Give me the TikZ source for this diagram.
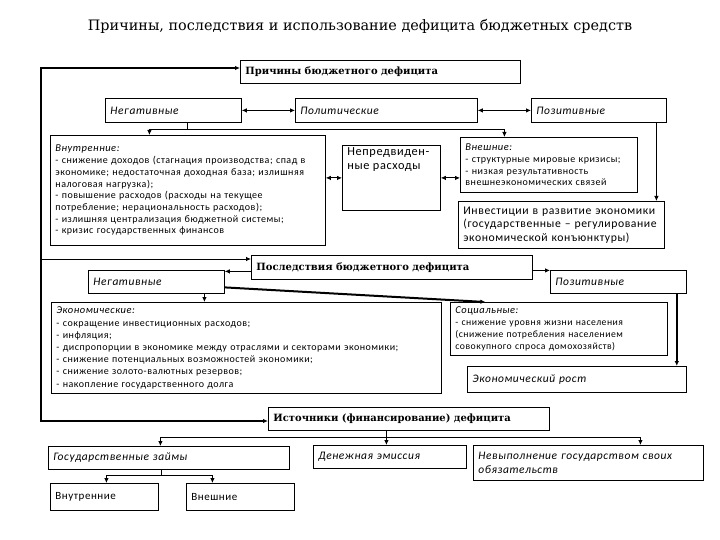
\documentclass[tikz,border=0pt]{standalone}
\usepackage{fontspec}
\setmainfont{Carlito}[LetterSpace=5]
\newfontfamily\headfont{DejaVu Serif}
\usetikzlibrary{arrows.meta,positioning}

\tikzset{
  box/.style={draw, line width=0.8pt, anchor=north west, inner xsep=5pt, inner ysep=2pt,
    align=left, font=\fontsize{10}{11.7}\selectfont},
  head/.style={box, font=\headfont\bfseries\fontsize{10}{12}\selectfont},
  kind/.style={box, font=\itshape\fontsize{11.5}{13.5}\selectfont},
  link/.style={-{Latex[length=5pt,width=4.5pt]}, line width=0.8pt},
  both/.style={{Latex[length=5pt,width=4.5pt]}-{Latex[length=5pt,width=4.5pt]}, line width=0.8pt},
  heavy/.style={link, line width=2pt},
}

\begin{document}
\begin{tikzpicture}[x=1pt,y=-1pt]
\useasboundingbox (0,0) rectangle (720,540);

\node[font=\headfont\fontsize{14.4}{17}\selectfont] (title) at (360,26)
  {Причины, последствия и  использование дефицита бюджетных средств};

% causes
\node[head, text width=270pt, minimum height=23pt] (causes) at (240,60) {Причины бюджетного дефицита};
\node[kind, text width=126pt, minimum height=24pt] (negC) at (105,98) {Негативные};
\node[kind, text width=172pt, minimum height=24pt] (polC) at (295,98) {Политические};
\node[kind, text width=125pt, minimum height=24pt] (posC) at (531,98) {Позитивные};

\node[box, text width=265pt, minimum height=110pt] (inner) at (50,135)
  {{\itshape\fontsize{10.5}{12}\selectfont Внутренние:}\\
   - снижение доходов (стагнация производства; спад в\\
   экономике; недостаточная доходная база; излишняя\\
   налоговая нагрузка);\\
   - повышение расходов (расходы на текущее\\
   потребление; нерациональность расходов);\\
   - излишняя централизация бюджетной системы;\\
   - кризис государственных финансов};
\node[box, minimum height=65pt, font=\fontsize{12.3}{13.5}\selectfont] (unforeseen) at (342,145)
  {\parbox[t][60pt][t]{88pt}{Непредвиден-\\ные расходы}};
\node[box, text width=167pt, minimum height=55pt] (outer) at (460,137)
  {{\itshape\fontsize{10.5}{12}\selectfont Внешние:}\\
   - структурные мировые кризисы;\\
   - низкая результативность\\
   внешнеэкономических связей};
\node[box, text width=196pt, minimum height=47pt, font=\fontsize{11.7}{13.5}\selectfont] (invest) at (458,201)
  {Инвестиции в развитие экономики\\
   (государственные – регулирование\\
   экономической конъюнктуры)};

% effects
\node[head, text width=271pt, minimum height=24pt] (effects) at (251,255) {Последствия бюджетного дефицита};
\node[kind, text width=126pt, minimum height=23pt] (negE) at (88,270) {Негативные};
\node[kind, text width=126pt, minimum height=23pt] (posE) at (550,270) {Позитивные};

\node[box, text width=380pt, minimum height=91pt, font=\fontsize{10}{12.2}\selectfont] (econ) at (51,302)
  {{\itshape\fontsize{10.5}{12}\selectfont Экономические:}\\
   - сокращение инвестиционных расходов;\\
   - инфляция;\\
   - диспропорции в экономике между отраслями и секторами экономики;\\
   - снижение потенциальных возможностей экономики;\\
   - снижение золото-валютных резервов;\\
   - накопление государственного долга};
\node[box, text width=207pt, minimum height=53pt, font=\fontsize{9.7}{11.7}\selectfont] (social) at (450,302)
  {{\itshape\fontsize{10.5}{12}\selectfont Социальные:}\\
   - снижение уровня жизни населения\\
   (снижение потребления населением\\
   совокупного спроса домохозяйств)};
\node[kind, text width=209pt, minimum height=26pt] (growth) at (467,366) {Экономический рост};

% sources
\node[head, text width=271pt, minimum height=23pt] (sources) at (268,407) {Источники (финансирование) дефицита};
\node[kind, text width=231pt, minimum height=23pt] (loans) at (48,446) {Государственные займы};
\node[kind, text width=143pt, minimum height=23pt] (emission) at (313,445) {Денежная эмиссия};
\node[kind, text width=220pt, minimum height=35pt] (default) at (473,445)
  {Невыполнение государством своих\\обязательств};
\node[box, text width=98pt, minimum height=27pt, font=\fontsize{11}{13}\selectfont] (loanIn) at (50,483) {Внутренние};
\node[box, text width=98pt, minimum height=27pt, font=\fontsize{11}{13}\selectfont] (loanOut) at (186,483) {Внешние};

% left rail
\coordinate (railTop) at (41,68);
\coordinate (railMid) at (41,259);
\coordinate (railBot) at (41,421);
\draw[line width=2pt] (railTop) -- (railBot);
\draw[heavy] ([xshift=-1pt]railTop) -- (causes.west |- railTop);
\draw[link] (railMid) -- (effects.west |- railMid);
\draw[heavy] ([xshift=-1pt]railBot) -- (sources.west |- railBot);

% causes links
\draw[both] (negC) -- (polC);
\draw[both] (polC) -- (posC);
\draw[line width=0.8pt] ([xshift=14pt]negC.south) -- ++(0,7) coordinate (forkC);
\draw[link] (forkC) -| ([xshift=-38.5pt]inner.north);
\draw[link] (forkC) -| ([xshift=-44.5pt]outer.north);
\draw[both] (unforeseen.west -| inner.east) -- (unforeseen.west);
\draw[both] (unforeseen.east) -- (unforeseen.east -| outer.west);
\draw[link] ([xshift=57.5pt]posC.south) -- ([xshift=57.5pt]posC.south |- invest.north);

% effects links
\draw[link] ([yshift=-4pt]effects.west) -- ([yshift=-4pt]effects.west -| negE.east);
\draw[link] ([yshift=-3pt]effects.east) -- ([yshift=-3pt]effects.east -| posE.west);
\draw[link] ([xshift=48pt]negE.south) -- ([xshift=48pt]negE.south |- econ.north);
\draw[heavy] ([yshift=-5.5pt]negE.east) -- ([xshift=-73.5pt]social.north);
\draw[heavy] ([xshift=-10pt]posE.south east) -- ([xshift=-10pt]posE.south east |- growth.north);

% sources links
\draw[link] ([xshift=-22.5pt]sources.south) -- ([xshift=-22.5pt]sources.south |- emission.north);
\coordinate (forkS) at (386,437);
\draw[link] (forkS) -| ([xshift=-8.5pt]loans.north);
\draw[link] (forkS) -| ([xshift=52pt]default.north);
\draw[line width=0.8pt] ([xshift=-7.5pt]loans.south) -- ++(0,6) coordinate (forkL);
\draw[link] (forkL) -| ([xshift=2pt]loanIn.north);
\draw[link] (forkL) -| ([xshift=-28pt]loanOut.north);
\end{tikzpicture}
\end{document}
